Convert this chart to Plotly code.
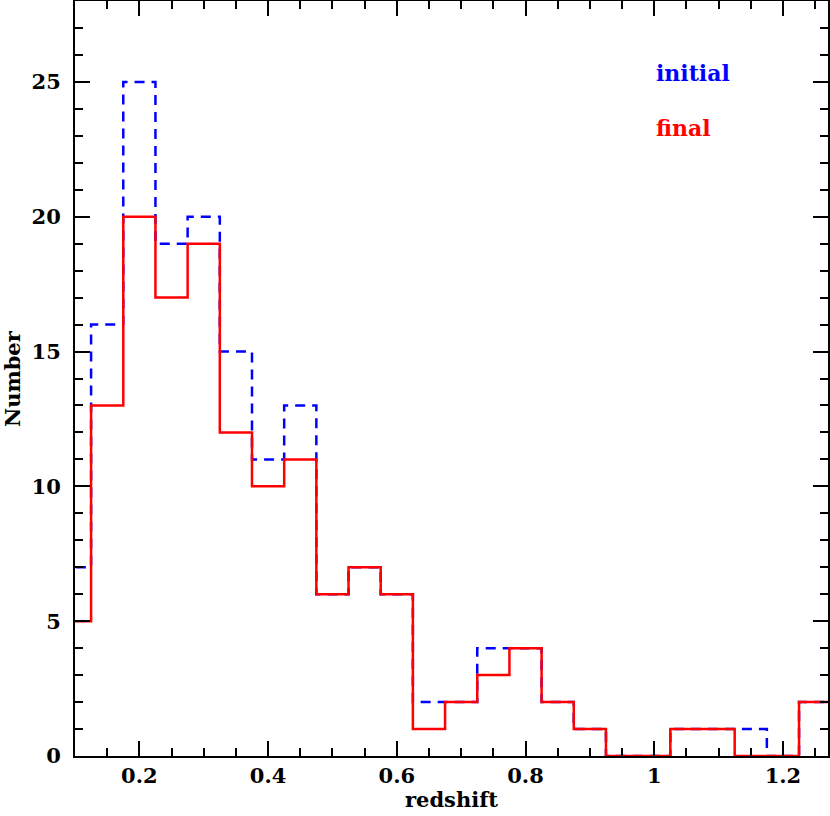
"""
Redshift histogram: initial vs final sample (Plotly)
"""
import plotly.graph_objects as go

# bin edges (width 0.05)
BIN_EDGES = [0.075, 0.125, 0.175, 0.225, 0.275, 0.325, 0.375, 0.425, 0.475,
             0.525, 0.575, 0.625, 0.675, 0.725, 0.775, 0.825, 0.875, 0.925,
             0.975, 1.025, 1.075, 1.125, 1.175, 1.225, 1.275]

# counts per bin
INITIAL = [7, 16, 25, 19, 20, 15, 11, 13, 6, 7, 6, 2, 2, 4, 4, 2, 1, 0, 0, 1, 1, 1, 0, 2]
FINAL = [5, 13, 20, 17, 19, 12, 10, 11, 6, 7, 6, 1, 2, 3, 4, 2, 1, 0, 0, 1, 1, 0, 0, 2]

FONT = dict(family="DejaVu Serif", size=21, color="black", weight="bold")


def step_trace(counts, color, dash, name):
    # 'hv' 계단선: 마지막 값을 한 번 더 붙여 오른쪽 끝 bin까지 그림
    return go.Scatter(
        x=BIN_EDGES, y=counts + [counts[-1]],
        mode="lines", line_shape="hv", name=name,
        line=dict(color=color, width=2.5, dash=dash),
        hoverinfo="skip"
    )


fig = go.Figure()
fig.add_trace(step_trace(INITIAL, "#0000ff", "10px,7px", "initial"))
fig.add_trace(step_trace(FINAL, "#ff0000", "solid", "final"))

axis_common = dict(
    showgrid=False, zeroline=False, automargin=False,
    showline=True, linecolor="black", linewidth=2, mirror="allticks",
    ticks="inside", tickcolor="black", tickwidth=2, ticklen=15,
    tickfont=FONT,
)

fig.update_xaxes(
    range=[0.1, 1.27], tick0=0, dtick=0.2,
    minor=dict(dtick=0.05, ticks="inside", ticklen=8, tickwidth=2, tickcolor="black"),
    **axis_common
)
fig.update_yaxes(
    range=[0, 28], tick0=0, dtick=5, ticklabelstandoff=8,
    minor=dict(dtick=1, ticks="inside", ticklen=8, tickwidth=2, tickcolor="black"),
    **axis_common
)

# axis titles as annotations for exact placement
fig.add_annotation(text="redshift", xref="paper", yref="paper", x=0.5, y=-0.058,
                   xanchor="center", yanchor="middle", showarrow=False, font=FONT)
fig.add_annotation(text="Number", xref="paper", yref="paper", x=-0.083, y=0.5,
                   xanchor="center", yanchor="middle", showarrow=False,
                   textangle=-90, font=FONT)

fig.add_annotation(text="initial", xref="paper", yref="paper", x=0.769, y=0.905,
                   xanchor="left", yanchor="middle", showarrow=False,
                   font=dict(FONT, color="#0000ff", size=22))
fig.add_annotation(text="final", xref="paper", yref="paper", x=0.769, y=0.832,
                   xanchor="left", yanchor="middle", showarrow=False,
                   font=dict(FONT, color="#ff0000", size=22))

fig.update_layout(
    width=830, height=816,
    margin=dict(l=75, r=2, t=1, b=60),
    plot_bgcolor="white", paper_bgcolor="white",
    showlegend=False,
)

# 기본 body 여백(8px) 제거, 모드바 숨김
fig.write_html("out.html", config={"displayModeBar": False},
               post_script="document.body.style.margin='0px';")
